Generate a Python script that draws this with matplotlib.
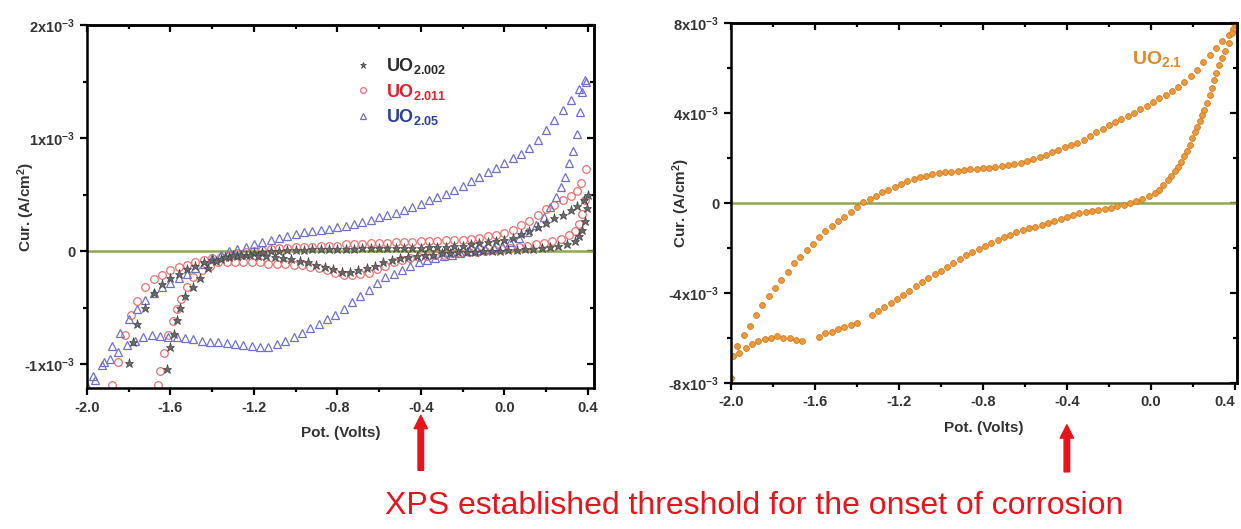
"""Cyclic voltammograms of UO2+x electrodes (left: three stoichiometries, right: UO2.1)."""
import matplotlib
matplotlib.use('Agg')
import matplotlib.pyplot as plt
from matplotlib.ticker import FixedLocator, MultipleLocator

# current values in units of 1e-3 A/cm^2, potential in V
# --- UO2.05 (blue triangles)
BLUE_FWD = [(-1.96, -1.14), (-1.92, -0.98), (-1.88, -0.84), (-1.84, -0.72), (-1.80, -0.60),
            (-1.76, -0.51), (-1.72, -0.43), (-1.68, -0.37), (-1.64, -0.32), (-1.60, -0.28),
            (-1.56, -0.24), (-1.52, -0.20), (-1.48, -0.15), (-1.44, -0.11), (-1.40, -0.06),
            (-1.36, -0.03), (-1.32, 0.00), (-1.28, 0.02), (-1.24, 0.04), (-1.20, 0.06),
            (-1.16, 0.08), (-1.12, 0.10), (-1.08, 0.12), (-1.04, 0.13), (-1.00, 0.15),
            (-0.96, 0.17), (-0.92, 0.18), (-0.88, 0.19), (-0.84, 0.20), (-0.80, 0.21),
            (-0.76, 0.22), (-0.72, 0.24), (-0.68, 0.26), (-0.64, 0.28), (-0.60, 0.30),
            (-0.56, 0.32), (-0.52, 0.34), (-0.48, 0.36), (-0.44, 0.39), (-0.40, 0.42),
            (-0.36, 0.45), (-0.32, 0.48), (-0.28, 0.51), (-0.24, 0.54), (-0.20, 0.58),
            (-0.16, 0.62), (-0.12, 0.66), (-0.08, 0.70), (-0.04, 0.74), (0.00, 0.78),
            (0.04, 0.82), (0.08, 0.86), (0.12, 0.91), (0.16, 0.98), (0.20, 1.07),
            (0.24, 1.16), (0.28, 1.25), (0.32, 1.34), (0.36, 1.43), (0.385, 1.51)]
BLUE_REV = [(0.39, 1.50), (0.375, 1.41), (0.365, 1.23), (0.35, 1.04), (0.33, 0.89),
            (0.31, 0.78), (0.29, 0.66), (0.27, 0.57), (0.25, 0.48), (0.22, 0.39),
            (0.19, 0.30), (0.15, 0.23), (0.11, 0.17), (0.07, 0.12), (0.03, 0.08),
            (-0.01, 0.05), (-0.05, 0.03), (-0.09, 0.02), (-0.13, 0.01), (-0.17, 0.00),
            (-0.21, -0.02), (-0.25, -0.03), (-0.29, -0.04), (-0.33, -0.06), (-0.37, -0.08),
            (-0.41, -0.10), (-0.45, -0.13), (-0.49, -0.17), (-0.53, -0.20), (-0.57, -0.23),
            (-0.61, -0.28), (-0.65, -0.34), (-0.69, -0.40), (-0.73, -0.45), (-0.77, -0.51),
            (-0.81, -0.56), (-0.85, -0.60), (-0.89, -0.64), (-0.93, -0.68), (-0.97, -0.72),
            (-1.01, -0.76), (-1.05, -0.79), (-1.09, -0.82), (-1.13, -0.85), (-1.17, -0.85),
            (-1.21, -0.84), (-1.25, -0.83), (-1.29, -0.82), (-1.33, -0.81), (-1.37, -0.80),
            (-1.41, -0.80), (-1.45, -0.79), (-1.49, -0.78), (-1.53, -0.77), (-1.57, -0.76),
            (-1.61, -0.76), (-1.65, -0.75), (-1.69, -0.74), (-1.73, -0.76), (-1.77, -0.79),
            (-1.81, -0.83), (-1.85, -0.89), (-1.89, -0.95), (-1.93, -1.01), (-1.97, -1.10),
            (-2.00, -1.19)]

# --- UO2.011 (red circles)
RED_FWD = [(-1.88, -1.18), (-1.85, -0.98), (-1.82, -0.74), (-1.79, -0.56), (-1.76, -0.44),
           (-1.72, -0.32), (-1.68, -0.25), (-1.64, -0.21), (-1.60, -0.17), (-1.56, -0.14),
           (-1.52, -0.12), (-1.48, -0.10), (-1.44, -0.08), (-1.40, -0.06), (-1.36, -0.05),
           (-1.32, -0.04), (-1.28, -0.02), (-1.24, -0.01), (-1.20, 0.00), (-1.16, 0.01),
           (-1.12, 0.02), (-1.08, 0.03), (-1.04, 0.03), (-1.00, 0.04), (-0.96, 0.04),
           (-0.92, 0.04), (-0.88, 0.05), (-0.84, 0.05), (-0.80, 0.05), (-0.76, 0.06),
           (-0.72, 0.06), (-0.68, 0.06), (-0.64, 0.07), (-0.60, 0.07), (-0.56, 0.07),
           (-0.52, 0.08), (-0.48, 0.08), (-0.44, 0.08), (-0.40, 0.09), (-0.36, 0.09),
           (-0.32, 0.09), (-0.28, 0.10), (-0.24, 0.10), (-0.20, 0.10), (-0.16, 0.11),
           (-0.12, 0.12), (-0.08, 0.13), (-0.04, 0.14), (0.00, 0.16), (0.04, 0.19),
           (0.08, 0.23), (0.12, 0.27), (0.16, 0.32), (0.20, 0.37), (0.24, 0.41),
           (0.28, 0.45), (0.32, 0.49), (0.35, 0.53), (0.37, 0.60), (0.39, 0.73)]
RED_REV = [(0.385, 0.45), (0.375, 0.33), (0.36, 0.24), (0.34, 0.18), (0.31, 0.14),
           (0.27, 0.11), (0.23, 0.09), (0.19, 0.07), (0.15, 0.06), (0.11, 0.05),
           (0.07, 0.04), (0.03, 0.03), (-0.01, 0.02), (-0.05, 0.01), (-0.09, 0.00),
           (-0.13, -0.01), (-0.17, -0.01), (-0.21, -0.02), (-0.25, -0.02), (-0.29, -0.03),
           (-0.33, -0.03), (-0.37, -0.04), (-0.41, -0.05), (-0.45, -0.06), (-0.49, -0.08),
           (-0.53, -0.10), (-0.57, -0.13), (-0.61, -0.16), (-0.65, -0.19), (-0.69, -0.20),
           (-0.73, -0.21), (-0.77, -0.21), (-0.81, -0.19), (-0.85, -0.17), (-0.89, -0.15),
           (-0.93, -0.14), (-0.97, -0.12), (-1.01, -0.12), (-1.05, -0.11), (-1.09, -0.11),
           (-1.13, -0.11), (-1.17, -0.10), (-1.21, -0.10), (-1.25, -0.10), (-1.29, -0.10),
           (-1.33, -0.10), (-1.37, -0.10), (-1.41, -0.13), (-1.45, -0.17), (-1.49, -0.23),
           (-1.52, -0.32), (-1.55, -0.42), (-1.57, -0.51), (-1.59, -0.62), (-1.61, -0.74),
           (-1.63, -0.90), (-1.65, -1.06), (-1.66, -1.18)]

# --- UO2.002 (grey stars)
BLACK_FWD = [(-1.80, -0.99), (-1.78, -0.80), (-1.76, -0.64), (-1.72, -0.50), (-1.68, -0.37),
             (-1.64, -0.29), (-1.60, -0.24), (-1.56, -0.20), (-1.52, -0.16), (-1.48, -0.13),
             (-1.44, -0.10), (-1.40, -0.08), (-1.36, -0.07), (-1.32, -0.05), (-1.28, -0.04),
             (-1.24, -0.03), (-1.20, -0.02), (-1.16, -0.01), (-1.12, 0.00), (-1.08, 0.00),
             (-1.04, 0.01), (-1.00, 0.01), (-0.96, 0.01), (-0.92, 0.02), (-0.88, 0.02),
             (-0.84, 0.02), (-0.80, 0.02), (-0.76, 0.02), (-0.72, 0.02), (-0.68, 0.03),
             (-0.64, 0.03), (-0.60, 0.03), (-0.56, 0.03), (-0.52, 0.03), (-0.48, 0.03),
             (-0.44, 0.03), (-0.40, 0.03), (-0.36, 0.04), (-0.32, 0.04), (-0.28, 0.04),
             (-0.24, 0.05), (-0.20, 0.05), (-0.16, 0.06), (-0.12, 0.07), (-0.08, 0.08),
             (-0.04, 0.09), (0.00, 0.10), (0.04, 0.12), (0.08, 0.15), (0.12, 0.18),
             (0.16, 0.21), (0.20, 0.25), (0.24, 0.29), (0.28, 0.32), (0.32, 0.36),
             (0.35, 0.40), (0.38, 0.45), (0.40, 0.50)]
BLACK_REV = [(0.395, 0.38), (0.385, 0.27), (0.375, 0.19), (0.36, 0.13), (0.34, 0.09),
             (0.30, 0.06), (0.26, 0.05), (0.22, 0.04), (0.18, 0.03), (0.14, 0.02),
             (0.10, 0.02), (0.06, 0.01), (0.02, 0.01), (-0.02, 0.00), (-0.06, 0.00),
             (-0.10, 0.00), (-0.14, -0.01), (-0.18, -0.01), (-0.22, -0.01), (-0.26, -0.02),
             (-0.30, -0.02), (-0.34, -0.03), (-0.38, -0.03), (-0.42, -0.04), (-0.46, -0.05),
             (-0.50, -0.06), (-0.54, -0.08), (-0.58, -0.10), (-0.62, -0.13), (-0.66, -0.15),
             (-0.70, -0.17), (-0.74, -0.18), (-0.78, -0.18), (-0.82, -0.16), (-0.86, -0.14),
             (-0.90, -0.12), (-0.94, -0.10), (-0.98, -0.09), (-1.02, -0.07), (-1.06, -0.06),
             (-1.10, -0.05), (-1.14, -0.04), (-1.18, -0.04), (-1.22, -0.03), (-1.26, -0.03),
             (-1.30, -0.03), (-1.34, -0.05), (-1.38, -0.09), (-1.42, -0.15), (-1.46, -0.24),
             (-1.49, -0.32), (-1.53, -0.40), (-1.555, -0.50), (-1.57, -0.61), (-1.585, -0.73),
             (-1.60, -0.85), (-1.615, -1.04)]

# --- UO2.1 (orange dots, right panel)
ORANGE_FWD = [(-2.00, -7.80), (-1.97, -6.35), (-1.94, -5.85), (-1.91, -5.45), (-1.88, -5.00),
              (-1.85, -4.55), (-1.82, -4.15), (-1.79, -3.78), (-1.76, -3.40), (-1.73, -3.05),
              (-1.70, -2.68), (-1.67, -2.38), (-1.64, -2.08), (-1.61, -1.80), (-1.58, -1.52),
              (-1.55, -1.26), (-1.52, -1.03), (-1.49, -0.81), (-1.46, -0.60), (-1.43, -0.38),
              (-1.40, -0.17), (-1.37, 0.03), (-1.34, 0.20), (-1.31, 0.33), (-1.28, 0.47),
              (-1.25, 0.59), (-1.22, 0.71), (-1.19, 0.84), (-1.16, 0.96), (-1.13, 1.06),
              (-1.10, 1.14), (-1.07, 1.21), (-1.04, 1.27), (-1.01, 1.32), (-0.98, 1.36),
              (-0.95, 1.40), (-0.92, 1.44), (-0.89, 1.47), (-0.86, 1.50), (-0.83, 1.53),
              (-0.80, 1.55), (-0.77, 1.57), (-0.74, 1.60), (-0.71, 1.64), (-0.68, 1.69),
              (-0.65, 1.74), (-0.62, 1.80), (-0.59, 1.87), (-0.56, 1.95), (-0.53, 2.04),
              (-0.50, 2.14), (-0.47, 2.25), (-0.44, 2.36), (-0.41, 2.47), (-0.38, 2.56),
              (-0.35, 2.67), (-0.32, 2.82), (-0.29, 2.98), (-0.26, 3.15), (-0.23, 3.31),
              (-0.20, 3.45), (-0.17, 3.59), (-0.14, 3.73), (-0.11, 3.87), (-0.08, 4.01),
              (-0.05, 4.16), (-0.02, 4.32), (0.01, 4.49), (0.04, 4.65), (0.07, 4.82),
              (0.10, 4.98), (0.13, 5.15), (0.16, 5.38), (0.19, 5.64), (0.22, 5.92),
              (0.25, 6.25), (0.28, 6.58), (0.31, 6.88), (0.34, 7.18), (0.37, 7.48),
              (0.39, 7.75), (0.40, 7.95)]
ORANGE_REV = [(0.385, 7.55), (0.370, 7.10), (0.355, 6.75), (0.340, 6.45), (0.325, 6.15),
              (0.310, 5.80), (0.300, 5.45), (0.290, 5.10), (0.280, 4.78), (0.268, 4.45),
              (0.255, 4.15), (0.243, 3.90), (0.232, 3.65), (0.220, 3.40), (0.210, 3.15),
              (0.198, 2.88), (0.186, 2.60), (0.172, 2.32), (0.158, 2.08), (0.144, 1.84),
              (0.130, 1.62), (0.114, 1.42), (0.098, 1.22), (0.080, 1.02), (0.060, 0.80),
              (0.040, 0.60), (0.020, 0.46), (-0.01, 0.30), (-0.04, 0.18), (-0.07, 0.08),
              (-0.10, 0.00), (-0.13, -0.08), (-0.16, -0.14), (-0.19, -0.20), (-0.22, -0.25),
              (-0.25, -0.30), (-0.28, -0.35), (-0.31, -0.40), (-0.34, -0.46), (-0.37, -0.53),
              (-0.40, -0.61), (-0.43, -0.70), (-0.46, -0.79), (-0.49, -0.88), (-0.52, -0.96),
              (-0.55, -1.05), (-0.58, -1.13), (-0.61, -1.21), (-0.64, -1.30), (-0.67, -1.40),
              (-0.70, -1.52), (-0.73, -1.64), (-0.76, -1.77), (-0.79, -1.90), (-0.82, -2.04),
              (-0.85, -2.18), (-0.88, -2.33), (-0.91, -2.50), (-0.94, -2.66), (-0.97, -2.83),
              (-1.00, -3.00), (-1.03, -3.17), (-1.06, -3.35), (-1.09, -3.53), (-1.12, -3.71),
              (-1.15, -3.89), (-1.18, -4.07), (-1.21, -4.25), (-1.24, -4.43), (-1.27, -4.61),
              (-1.30, -4.79), (-1.33, -4.97),
              (-1.40, -5.33), (-1.43, -5.42), (-1.46, -5.52), (-1.49, -5.60), (-1.52, -5.72),
              (-1.55, -5.80), (-1.58, -5.95),
              (-1.66, -6.13), (-1.69, -6.08), (-1.72, -6.02), (-1.75, -5.98), (-1.78, -5.90),
              (-1.81, -5.98), (-1.84, -6.04), (-1.87, -6.15), (-1.90, -6.27), (-1.93, -6.45),
              (-1.96, -6.65), (-1.99, -6.80)]

X_TICKS = [-2.0, -1.6, -1.2, -0.8, -0.4, 0.0, 0.4]
LEFT_Y_TICKS = [-1, 0, 1, 2]
LEFT_Y_LABELS = ['-1x10$^{-3}$', '0', '1x10$^{-3}$', '2x10$^{-3}$']
RIGHT_Y_TICKS = [-8, -4, 0, 4, 8]
RIGHT_Y_LABELS = ['-8x10$^{-3}$', '-4x10$^{-3}$', '0', '4x10$^{-3}$', '8x10$^{-3}$']
THRESHOLD_V = -0.4

plt.rcParams['font.family'] = ['Liberation Sans', 'DejaVu Sans']
plt.rcParams['font.weight'] = 'bold'
plt.rcParams['axes.labelweight'] = 'bold'
plt.rcParams['axes.unicode_minus'] = False
plt.rcParams['mathtext.fontset'] = 'custom'
plt.rcParams['mathtext.rm'] = 'Liberation Sans:bold'
plt.rcParams['mathtext.it'] = 'Liberation Sans:bold'
plt.rcParams['mathtext.bf'] = 'Liberation Sans:bold'

TXT = '#333333'
RED_ARROW = '#e8141b'


def xy(pairs):
    return [p[0] for p in pairs], [p[1] for p in pairs]


def style(ax, xlim, ylim, yticks, ylabels, yminor, ylab_x):
    ax.set_xlim(*xlim)
    ax.set_ylim(*ylim)
    ax.xaxis.set_major_locator(FixedLocator(X_TICKS))
    ax.xaxis.set_minor_locator(MultipleLocator(0.2))
    ax.set_xticklabels([f'{t:.1f}' for t in X_TICKS])
    ax.yaxis.set_major_locator(FixedLocator(yticks))
    ax.yaxis.set_minor_locator(MultipleLocator(yminor))
    ax.set_yticklabels(ylabels)
    for s in ax.spines.values():
        s.set_linewidth(1.8)
    ax.tick_params(which='both', direction='out', width=1.6, labelsize=10.5, labelcolor=TXT)
    ax.tick_params(which='major', length=5)
    ax.tick_params(which='minor', length=3)
    ax.tick_params(axis='x', pad=4)
    # mirrored ticks on top/right point into the frame
    top = ax.secondary_xaxis('top')
    top.xaxis.set_major_locator(FixedLocator(X_TICKS))
    top.xaxis.set_minor_locator(MultipleLocator(0.2))
    top.tick_params(which='both', direction='in', width=1.6, labeltop=False)
    top.tick_params(which='major', length=5)
    top.tick_params(which='minor', length=3)
    top.spines['top'].set_linewidth(1.8)
    right = ax.secondary_yaxis('right')
    right.yaxis.set_major_locator(FixedLocator(yticks))
    right.yaxis.set_minor_locator(MultipleLocator(yminor))
    right.tick_params(which='both', direction='in', width=1.6, labelright=False)
    right.tick_params(which='major', length=5)
    right.tick_params(which='minor', length=3)
    right.spines['right'].set_linewidth(1.8)
    ax.axhline(0, color='#8fa84e', lw=1.8, zorder=1)
    ax.set_xlabel('Pot. (Volts)', fontsize=11, color=TXT, labelpad=8)
    ax.set_ylabel('Cur. (A/cm$^2$)', fontsize=11, color=TXT)
    ax.yaxis.set_label_coords(ylab_x, 0.5)


fig = plt.figure(figsize=(12.41, 5.29), dpi=100)
ax1 = fig.add_axes([0.0701, 0.2665, 0.4085, 0.6862])
ax2 = fig.add_axes([0.5890, 0.2760, 0.4077, 0.6805])

v, i = xy(BLACK_FWD + BLACK_REV)
ax1.plot(v, i, ls='none', marker='*', ms=6.5, color='#6a6a6a', mec='#444444', mew=0.5,
         label='UO$_{2.002}$', zorder=3)
v, i = xy(RED_FWD + RED_REV)
ax1.plot(v, i, ls='none', marker='o', ms=5.5, mfc='none', mec='#e87070', mew=0.9,
         label='UO$_{2.011}$', zorder=2)
v, i = xy(BLUE_FWD + BLUE_REV)
ax1.plot(v, i, ls='none', marker='^', ms=6, mfc='none', mec='#6f6fd2', mew=0.9,
         label='UO$_{2.05}$', zorder=2)
style(ax1, (-2.0, 0.43), (-1.21, 2.0), LEFT_Y_TICKS, LEFT_Y_LABELS, 0.5, -0.098)
ax1.legend(loc='upper left', bbox_to_anchor=(0.515, 0.935), frameon=False,
           prop={'weight': 'bold', 'size': 13}, labelcolor=['#2b2b2b', '#e0202a', '#2b3f9e'],
           handlelength=0.8, handletextpad=0.9, labelspacing=0.32, borderaxespad=0,
           numpoints=1, markerscale=0.75)

v, i = xy(ORANGE_FWD + ORANGE_REV)
ax2.plot(v, i, ls='none', marker='o', ms=4.2, color='#eb9a3c', mec='#d27a1e', mew=0.6, zorder=2)
style(ax2, (-2.0, 0.41), (-8, 8), RIGHT_Y_TICKS, RIGHT_Y_LABELS, 2, -0.076)
# last tick label sits at the figure edge: keep it inside
ax2.get_xticklabels()[-1].set_horizontalalignment('right')
ax2.text(0.03, 6.4, 'UO$_{2.1}$', color='#e08a2a', fontsize=14, ha='center', va='center')

# arrows marking the XPS threshold potential
for ax, tip, tail in [(ax1, 0.215, 0.111), (ax2, 0.197, 0.108)]:
    ax.annotate('', xy=(THRESHOLD_V, tip), xycoords=('data', 'figure fraction'),
                xytext=(THRESHOLD_V, tail), textcoords=('data', 'figure fraction'),
                arrowprops=dict(arrowstyle='simple,head_length=0.6,head_width=0.6,tail_width=0.25',
                                color=RED_ARROW, mutation_scale=16, shrinkA=0, shrinkB=0),
                annotation_clip=False)

fig.text(0.608, 0.043, 'XPS established threshold for the onset of corrosion',
         ha='center', va='center', fontsize=23, color=RED_ARROW, fontweight='normal')

fig.savefig('out.png', dpi=100)
